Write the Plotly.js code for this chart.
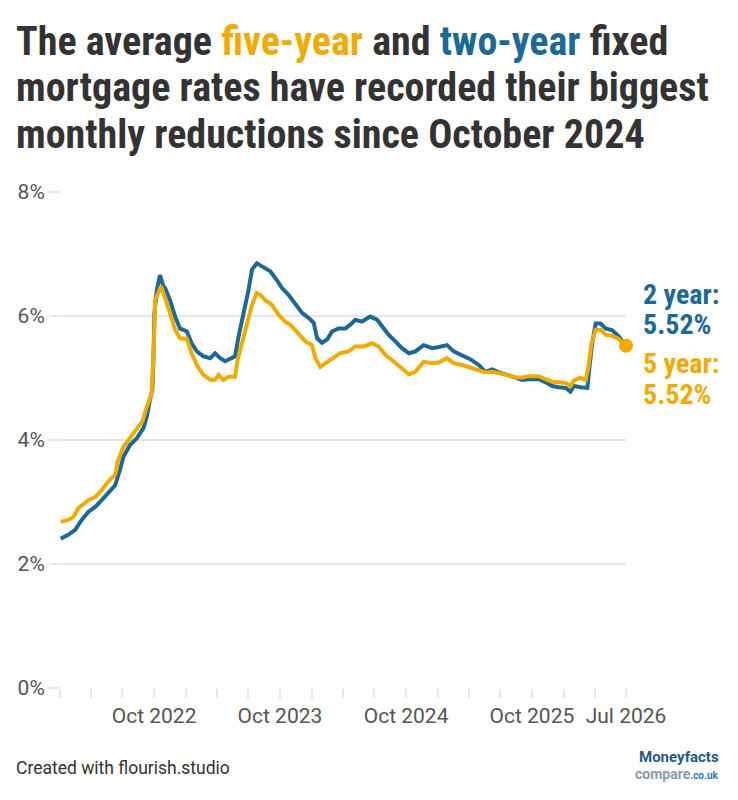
<!DOCTYPE html>
<html>
<head>
<meta charset="utf-8">
<script src="https://cdn.plot.ly/plotly-3.0.1.min.js"></script>
<style>
  html, body { margin: 0; padding: 0; background: #ffffff; }
  #chart { width: 738px; height: 800px; }
</style>
</head>
<body>
<div id="chart"></div>
<script>
// Average two-year fixed mortgage rate (%)
const dates2y = [
  '2022-01-03','2022-01-25','2022-02-14','2022-03-05','2022-03-24','2022-04-13','2022-05-02','2022-05-21',
  '2022-06-10','2022-06-24','2022-07-04','2022-07-23','2022-08-12','2022-08-31','2022-09-10','2022-09-19',
  '2022-09-26','2022-09-29','2022-10-02','2022-10-09','2022-10-18','2022-10-28','2022-11-02','2022-11-16',
  '2022-12-01','2022-12-15','2023-01-04','2023-01-18','2023-02-02','2023-02-21','2023-03-13','2023-03-27',
  '2023-04-11','2023-04-25','2023-05-10','2023-05-24','2023-06-03','2023-06-17','2023-07-02','2023-07-12',
  '2023-07-26','2023-08-10','2023-09-03','2023-09-22','2023-10-07','2023-10-26','2023-11-14','2023-12-04',
  '2023-12-23','2024-01-07','2024-01-17','2024-01-31','2024-02-15','2024-02-29','2024-03-19','2024-04-08',
  '2024-04-22','2024-05-07','2024-05-26','2024-06-19','2024-07-09','2024-07-23','2024-08-11','2024-08-31',
  '2024-09-19','2024-10-09','2024-10-28','2024-11-21','2024-12-16','2025-01-04','2025-01-28','2025-02-16',
  '2025-03-13','2025-04-06','2025-04-30','2025-05-19','2025-06-08','2025-06-27','2025-07-21','2025-08-14',
  '2025-09-03','2025-09-22','2025-10-21','2025-11-10','2025-11-29','2025-12-18','2026-01-07','2026-01-21',
  '2026-01-31','2026-02-19','2026-03-11','2026-03-17','2026-03-25','2026-04-04','2026-04-18','2026-05-03',
  '2026-05-22','2026-06-10','2026-07-01'
];
const rate2y = [
  2.41, 2.47, 2.55, 2.71, 2.84, 2.92, 3.03, 3.14,
  3.27, 3.52, 3.73, 3.92, 4.03, 4.19, 4.38, 4.65,
  4.81, 5.29, 6.05, 6.42, 6.66, 6.48, 6.45, 6.26,
  5.99, 5.80, 5.75, 5.56, 5.43, 5.35, 5.32, 5.40,
  5.32, 5.27, 5.32, 5.35, 5.67, 6.02, 6.42, 6.75,
  6.85, 6.80, 6.72, 6.58, 6.45, 6.34, 6.21, 6.05,
  5.97, 5.89, 5.64, 5.57, 5.62, 5.75, 5.80, 5.80,
  5.86, 5.94, 5.91, 5.99, 5.94, 5.83, 5.70, 5.59,
  5.48, 5.40, 5.43, 5.53, 5.48, 5.50, 5.53, 5.43,
  5.37, 5.30, 5.21, 5.10, 5.14, 5.09, 5.05, 5.00,
  4.97, 4.98, 4.98, 4.93, 4.87, 4.85, 4.84, 4.78,
  4.87, 4.85, 4.84, 5.18, 5.56, 5.88, 5.88, 5.80,
  5.77, 5.67, 5.52
];

// Average five-year fixed mortgage rate (%)
const dates5y = [
  '2022-01-03','2022-01-25','2022-02-09','2022-02-23','2022-03-24','2022-04-13','2022-05-02','2022-05-21',
  '2022-06-10','2022-06-19','2022-07-04','2022-07-23','2022-08-12','2022-08-28','2022-09-10','2022-09-24',
  '2022-09-30','2022-10-04','2022-10-13','2022-10-21','2022-11-02','2022-11-16','2022-12-01','2022-12-15',
  '2023-01-04','2023-01-18','2023-02-02','2023-02-21','2023-03-13','2023-03-27','2023-04-06','2023-04-20',
  '2023-05-05','2023-05-24','2023-05-31','2023-06-13','2023-06-27','2023-07-12','2023-07-26','2023-08-05',
  '2023-08-19','2023-09-08','2023-09-27','2023-10-16','2023-10-31','2023-11-24','2023-12-14','2024-01-02',
  '2024-01-12','2024-01-26','2024-02-10','2024-02-29','2024-03-24','2024-04-17','2024-05-07','2024-05-31',
  '2024-06-24','2024-07-13','2024-08-02','2024-08-21','2024-09-14','2024-10-09','2024-10-28','2024-11-21',
  '2024-12-16','2025-01-04','2025-01-28','2025-02-16','2025-03-13','2025-04-06','2025-04-30','2025-05-19',
  '2025-06-08','2025-06-27','2025-07-21','2025-08-14','2025-09-03','2025-09-22','2025-10-21','2025-11-10',
  '2025-11-29','2025-12-18','2026-01-07','2026-01-21','2026-01-31','2026-02-19','2026-03-06','2026-03-14',
  '2026-03-23','2026-04-04','2026-04-18','2026-05-03','2026-05-22','2026-06-10','2026-07-01'
];
const rate5y = [
  2.68, 2.71, 2.76, 2.90, 3.03, 3.08, 3.19, 3.33,
  3.44, 3.68, 3.89, 4.03, 4.16, 4.30, 4.54, 4.75,
  5.45, 6.26, 6.37, 6.48, 6.29, 6.05, 5.78, 5.64,
  5.63, 5.40, 5.21, 5.05, 4.97, 4.97, 5.05, 4.97,
  5.02, 5.02, 5.29, 5.56, 5.86, 6.18, 6.37, 6.34,
  6.26, 6.18, 6.02, 5.91, 5.86, 5.70, 5.59, 5.53,
  5.32, 5.18, 5.24, 5.32, 5.40, 5.43, 5.51, 5.51,
  5.56, 5.51, 5.37, 5.29, 5.18, 5.06, 5.10, 5.26,
  5.24, 5.25, 5.32, 5.24, 5.21, 5.17, 5.12, 5.09,
  5.10, 5.08, 5.05, 5.01, 5.01, 5.03, 5.03, 4.98,
  4.94, 4.93, 4.92, 4.87, 4.96, 5.00, 4.97, 5.18,
  5.56, 5.78, 5.78, 5.70, 5.68, 5.63, 5.52
];

// Axis ticks and labels
const xLabelDates = ['2022-10-01', '2023-10-01', '2024-10-01', '2025-10-01', '2026-07-01'];
const xLabelText = ['Oct 2022', 'Oct 2023', 'Oct 2024', 'Oct 2025', 'Jul 2026'];
const yTicks = [0, 2, 4, 6, 8];
const yTickText = ['0%', '2%', '4%', '6%', '8%'];

// Headline, one entry per line
const titleLines = [
  'The average <span style="color:#f0ab00">five-year</span> and <span style="color:#1d6996">two-year</span> fixed',
  'mortgage rates have recorded their biggest',
  'monthly reductions since October 2024'
];

const BLUE = '#1d6996';
const GOLD = '#f0ab00';
const COND = '"Roboto Condensed", Roboto, sans-serif';
const ROBOTO = 'Roboto, sans-serif';

const last2 = rate2y[rate2y.length - 1];
const last5 = rate5y[rate5y.length - 1];

// Plot area in pixels: x 60..626, y 192..688
const PL = 60, PW = 566, PB = 688, PH = 496;
const px = v => (v - PL) / PW;
const py = v => (PB - v) / PH;

const traces = [
  {
    x: dates2y, y: rate2y, type: 'scatter', mode: 'lines', name: '2 year',
    line: { color: BLUE, width: 4 }, hoverinfo: 'skip'
  },
  {
    x: dates5y, y: rate5y, type: 'scatter', mode: 'lines', name: '5 year',
    line: { color: GOLD, width: 4 }, hoverinfo: 'skip'
  },
  {
    x: [dates5y[dates5y.length - 1]], y: [last5], type: 'scatter', mode: 'markers',
    marker: { color: GOLD, size: 14 }, cliponaxis: false, hoverinfo: 'skip', showlegend: false
  }
];

const annotations = [];
const titleCentres = [42, 88, 134];
titleLines.forEach((t, i) => {
  annotations.push({
    xref: 'paper', yref: 'paper', x: px(14), y: py(titleCentres[i]),
    xanchor: 'left', yanchor: 'middle', showarrow: false, text: t,
    font: { family: COND, size: 40, color: '#333333', weight: 700 }
  });
});

// End-of-line value labels
const endLabels = [
  { text: '2 year:', c: 294, color: BLUE },
  { text: last2.toFixed(2) + '%', c: 324, color: BLUE },
  { text: '5 year:', c: 363, color: GOLD },
  { text: last5.toFixed(2) + '%', c: 394, color: GOLD }
];
endLabels.forEach(l => {
  annotations.push({
    xref: 'paper', yref: 'paper', x: px(641), y: py(l.c),
    xanchor: 'left', yanchor: 'middle', showarrow: false, text: l.text,
    font: { family: COND, size: 28, color: l.color, weight: 700 }
  });
});

annotations.push(
  {
    xref: 'paper', yref: 'paper', x: px(14), y: py(768),
    xanchor: 'left', yanchor: 'middle', showarrow: false,
    text: 'Created with flourish.studio',
    font: { family: ROBOTO, size: 17.5, color: '#333333' }
  },
  {
    xref: 'paper', yref: 'paper', x: px(721), y: py(757),
    xanchor: 'right', yanchor: 'middle', showarrow: false,
    text: 'Moneyfacts',
    font: { family: ROBOTO, size: 15, color: '#1f5a8a', weight: 700 }
  },
  {
    xref: 'paper', yref: 'paper', x: px(721), y: py(774),
    xanchor: 'right', yanchor: 'middle', showarrow: false,
    text: 'compare<span style="font-size:10px;color:#2f78b0">.co.uk</span>',
    font: { family: ROBOTO, size: 14, color: '#8c9aa5', weight: 700 }
  }
);

const layout = {
  width: 738,
  height: 800,
  paper_bgcolor: '#ffffff',
  plot_bgcolor: '#ffffff',
  showlegend: false,
  margin: { l: 60, r: 112, t: 192, b: 112 },
  xaxis: {
    type: 'date',
    range: ['2022-01-01', '2026-07-01'],
    tickvals: xLabelDates,
    ticktext: xLabelText,
    ticks: 'outside', ticklen: 9, tickwidth: 2, tickcolor: '#e6e6e6',
    minor: { dtick: 'M3', tick0: '2022-01-01', ticks: 'outside', ticklen: 9, tickwidth: 2, tickcolor: '#e6e6e6', showgrid: false },
    showgrid: false, zeroline: false, showline: false,
    tickfont: { family: ROBOTO, size: 21, color: '#555555' },
    fixedrange: true
  },
  yaxis: {
    range: [0, 8],
    tickvals: yTicks,
    ticktext: yTickText,
    ticks: 'outside', ticklen: 10, tickwidth: 2, tickcolor: '#e6e6e6',
    showgrid: true, gridcolor: '#e6e6e6', gridwidth: 2,
    zeroline: false, showline: false,
    tickfont: { family: ROBOTO, size: 21, color: '#555555' },
    fixedrange: true
  },
  annotations: annotations
};

Plotly.newPlot('chart', traces, layout, { staticPlot: true, displayModeBar: false });
</script>
</body>
</html>
